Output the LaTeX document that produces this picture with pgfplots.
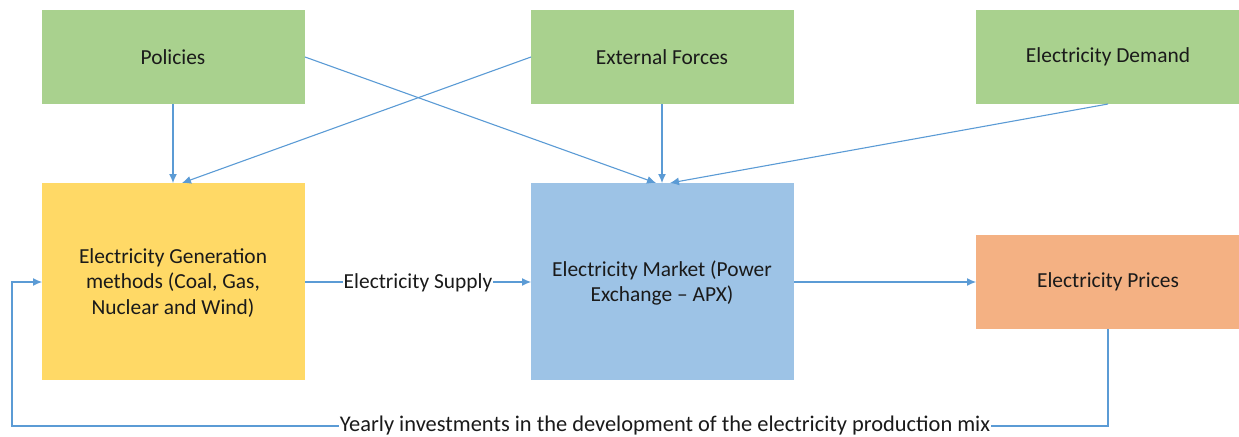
\documentclass[border=0pt]{standalone}
\usepackage{pgfplots}
\pgfplotsset{compat=1.18}
\usepackage{fontspec}
\setmainfont{Carlito}
\usetikzlibrary{arrows.meta}
\definecolor{gr}{HTML}{A9D18E}
\definecolor{ye}{HTML}{FFD966}
\definecolor{bl}{HTML}{9DC3E6}
\definecolor{orr}{HTML}{F4B183}
\definecolor{ar}{HTML}{5B9BD5}
\definecolor{tx}{HTML}{1A1A1A}
\begin{document}
\begin{tikzpicture}
\begin{axis}[width=1239bp,height=436bp,scale only axis,
  xmin=0,xmax=1239,ymin=0,ymax=436,y dir=reverse,hide axis,clip=false]
\path (axis cs:0,0) rectangle (axis cs:1239,436);
% boxes
\addplot[fill=gr,draw=none] coordinates {(42,10)(305,10)(305,104)(42,104)} --cycle;
\addplot[fill=gr,draw=none] coordinates {(531,10)(794,10)(794,104)(531,104)} --cycle;
\addplot[fill=gr,draw=none] coordinates {(976,10)(1239,10)(1239,104)(976,104)} --cycle;
\addplot[fill=ye,draw=none] coordinates {(42,183)(305,183)(305,380)(42,380)} --cycle;
\addplot[fill=bl,draw=none] coordinates {(531,183)(794,183)(794,380)(531,380)} --cycle;
\addplot[fill=orr,draw=none] coordinates {(976,235)(1239,235)(1239,329)(976,329)} --cycle;
% arrows
\addplot[ar,line width=1.1bp,-{Latex[length=9bp,width=8bp]}] coordinates {(173,104)(173,183)};
\addplot[ar,line width=1.1bp,-{Latex[length=9bp,width=8bp]}] coordinates {(531,57)(182,183)};
\addplot[ar,line width=1.1bp,-{Latex[length=9bp,width=8bp]}] coordinates {(305,57)(656,183)};
\addplot[ar,line width=1.1bp,-{Latex[length=9bp,width=8bp]}] coordinates {(662,104)(662,183)};
\addplot[ar,line width=1.1bp,-{Latex[length=9bp,width=8bp]}] coordinates {(1108,104)(670,183)};
\addplot[ar,line width=1.1bp,-{Latex[length=9bp,width=8bp]}] coordinates {(305,282)(531,282)};
\addplot[ar,line width=1.1bp,-{Latex[length=9bp,width=8bp]}] coordinates {(794,282)(976,282)};
\addplot[ar,line width=1.1bp,-{Latex[length=9bp,width=8bp]}] coordinates {(1108,329)(1108,426)(12,426)(12,282)(42,282)};
% texts
\tikzset{lab/.style={font=\fontsize{21.5}{26}\selectfont,align=center,text=tx}}
\node[lab] at (axis cs:173,57) {Policies};
\node[lab] at (axis cs:662,57) {External Forces};
\node[lab] at (axis cs:1108,57) {Electricity Demand};
\node[lab] at (axis cs:173,283) {Electricity Generation\\methods (Coal, Gas,\\Nuclear and Wind)};
\node[lab] at (axis cs:662,283) {Electricity Market (Power\\Exchange -- APX)};
\node[lab] at (axis cs:1108,282) {Electricity Prices};
\node[lab,fill=white,inner xsep=1bp,inner ysep=1bp] at (axis cs:418,283) {Electricity Supply};
\node[lab,font=\fontsize{22.5}{26}\selectfont,fill=white,inner xsep=1bp,inner ysep=1bp] at (axis cs:665,426) {Yearly investments in the development of the electricity production mix};
\end{axis}
\end{tikzpicture}
\end{document}
